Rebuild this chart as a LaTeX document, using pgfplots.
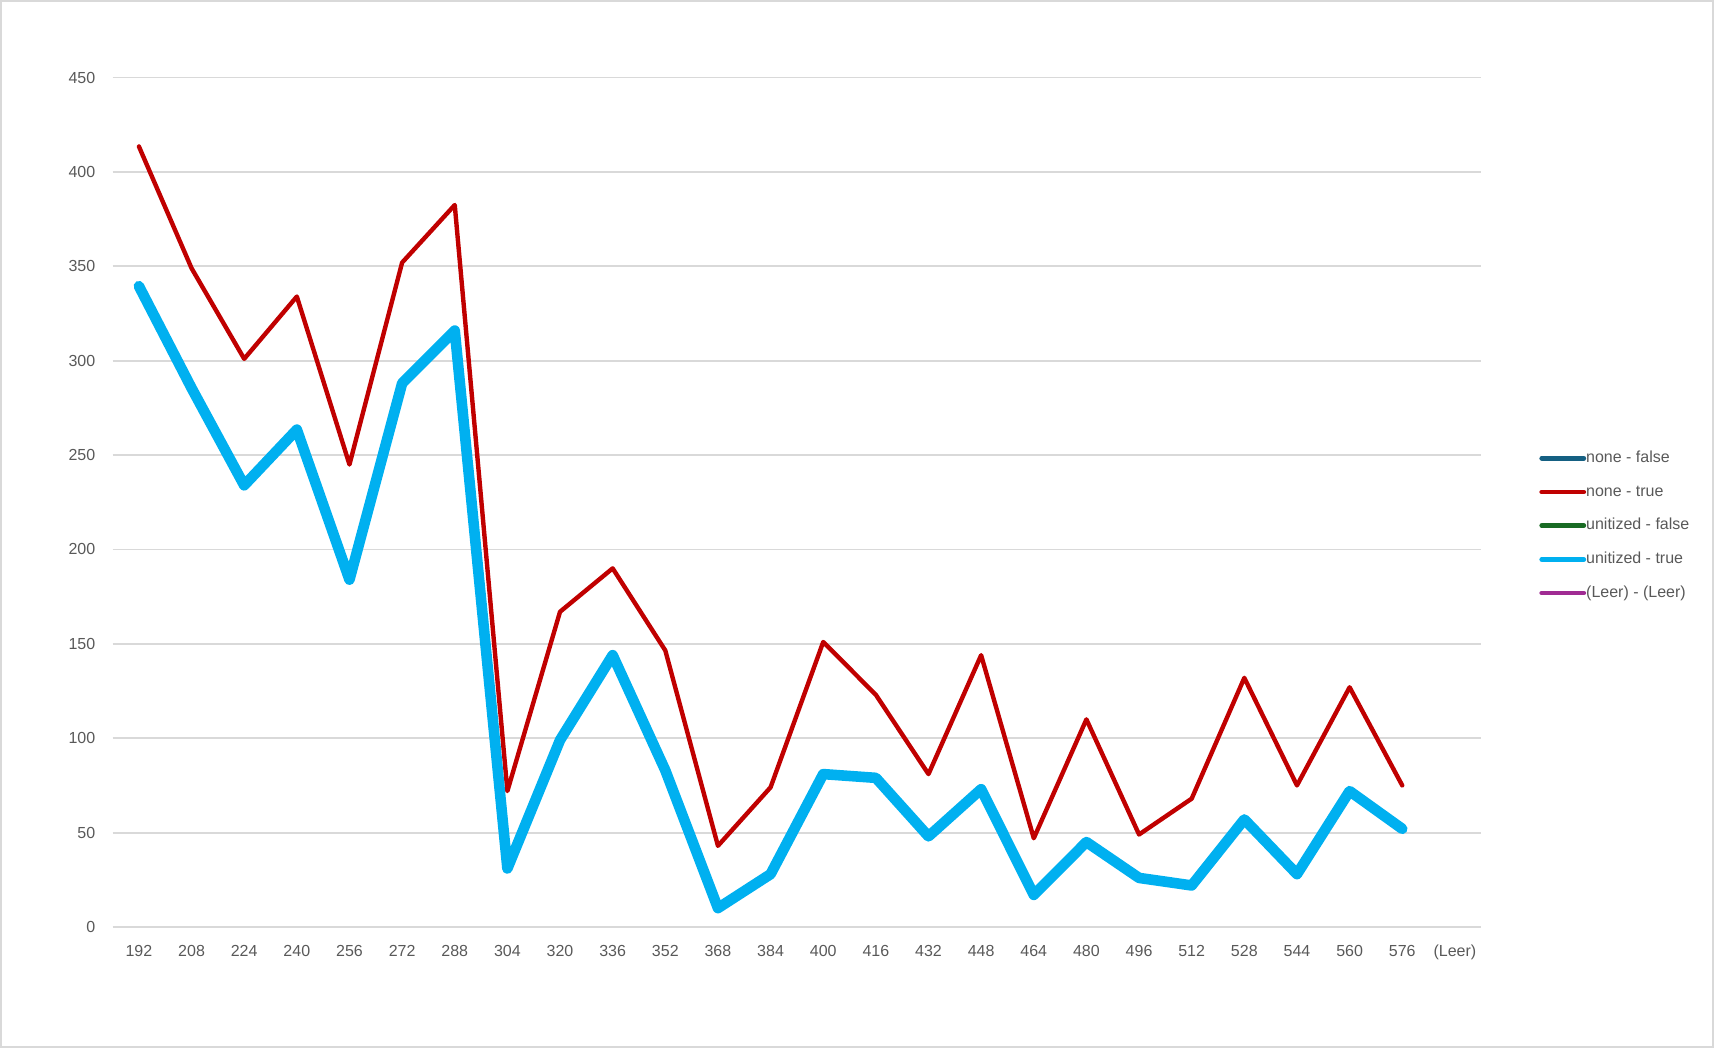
\documentclass[border=0pt]{standalone}
\usepackage{fontspec}
\setmainfont{Liberation Sans}
\usepackage{pgfplots}
\pgfplotsset{compat=1.18}
\definecolor{textgray}{HTML}{595959}
\definecolor{gridgray}{HTML}{D9D9D9}
\definecolor{bordergray}{HTML}{D9D9D9}
\definecolor{cnonefalse}{HTML}{156082}
\definecolor{cnonetrue}{HTML}{C00000}
\definecolor{cunifalse}{HTML}{196B24}
\definecolor{cunitrue}{HTML}{00B0F0}
\definecolor{cleer}{HTML}{A02B93}
\begin{document}
\begin{tikzpicture}
\useasboundingbox (0,0) rectangle (857pt,524pt);
\draw[bordergray, line width=1.2pt] (0.6pt,0.6pt) rectangle (856.4pt,523.4pt);
\begin{axis}[
  at={(56.3pt,60.5pt)}, anchor=south west,
  scale only axis, width=684.3pt, height=424.7pt,
  xmin=-0.5, xmax=25.5, ymin=0, ymax=450,
  ytick={0,50,...,450},
  xtick={0,...,25},
  xticklabels={192,208,224,240,256,272,288,304,320,336,352,368,384,400,416,432,448,464,480,496,512,528,544,560,576,(Leer)},
  ymajorgrids, grid style={color=gridgray, line width=0.9pt},
  axis line style={draw=none}, major tick style={draw=none},
  /pgf/number format/assume math mode=true,
  tick label style={font=\fontsize{8}{9.6}\selectfont, text=textgray},
  yticklabel style={anchor=east, inner sep=0pt, xshift=-8.5pt},
  xticklabel style={anchor=north, inner sep=0pt, yshift=-9pt},
  clip=false,
  legend cell align=left,
  legend style={at={(1.0422,0.5615)}, anchor=north west, draw=none, fill=none,
    inner sep=0pt, row sep=9.05pt, font=\fontsize{8}{9.6}\selectfont, text=textgray,
    nodes={inner sep=0pt, text height=6pt, text depth=1.8pt}},
  legend image code/.code={\draw[#1, line width=2.4pt, line cap=round] (0pt,0pt) -- (21pt,0pt);},
]
\addlegendimage{cnonefalse}
\addplot[cnonetrue, line width=2.2pt, line join=round, line cap=round] coordinates {
(0,413.5) (1,349) (2,301) (3,334) (4,245) (5,352) (6,382.5) (7,72) (8,167) (9,190)
(10,146.5) (11,43) (12,74) (13,151) (14,123) (15,81) (16,144) (17,47) (18,110) (19,49)
(20,68) (21,132) (22,75) (23,127) (24,75)};
\addlegendimage{cunifalse}
\addplot[cunitrue, line width=5.3pt, line join=round, line cap=round] coordinates {
(0,339.5) (1,285.5) (2,234) (3,263.5) (4,184) (5,288) (6,316) (7,31) (8,99) (9,144)
(10,83) (11,10) (12,28) (13,81) (14,79) (15,48) (16,73) (17,17) (18,45) (19,26)
(20,22) (21,57) (22,28) (23,72) (24,52)};
\addlegendimage{cleer}
\legend{none - false, none - true, unitized - false, unitized - true, (Leer) - (Leer)}
\end{axis}
\end{tikzpicture}
\end{document}
